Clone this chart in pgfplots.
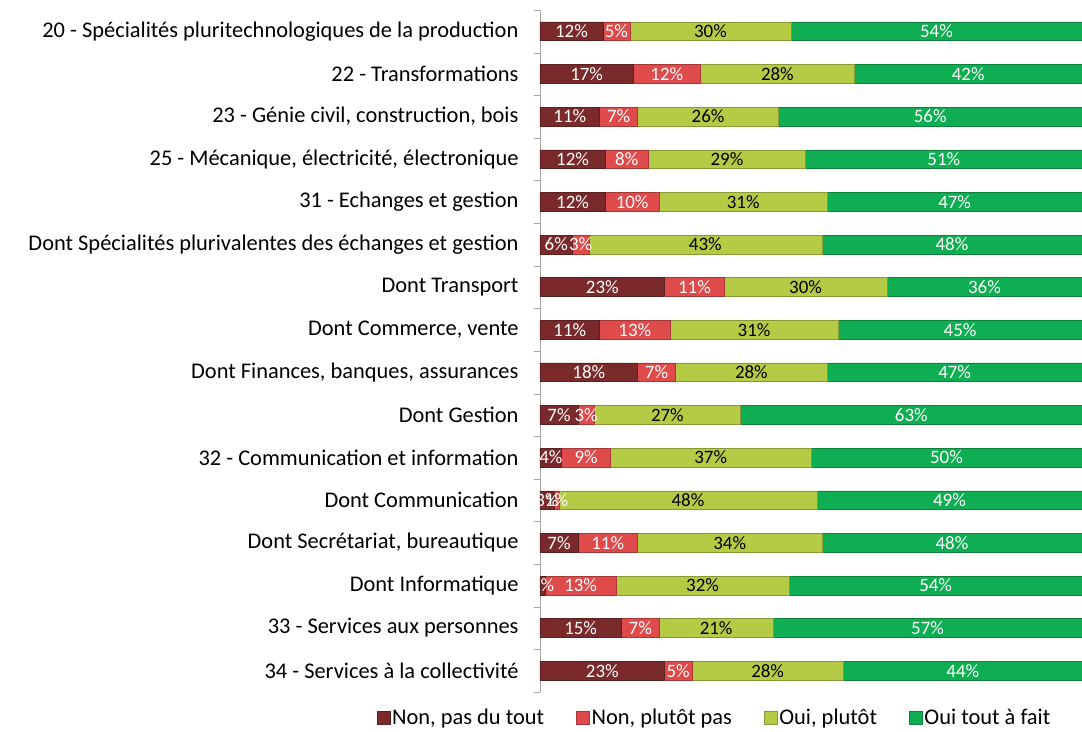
\documentclass[border=0pt]{standalone}
\usepackage{pgfplots}
\pgfplotsset{compat=1.18}
\usepackage{pgfplotstable}
\usepackage{fontspec}
\setmainfont{Carlito}
\definecolor{cA}{HTML}{7A2A2A}
\definecolor{cB}{HTML}{DF4B4B}
\definecolor{cC}{HTML}{B5CB46}
\definecolor{cD}{HTML}{10AE52}
\pgfplotstableread{
idx a b c d
0 11.6 5 29.7 53.7
1 17.2 12.4 28.4 42
2 11 7 26 56
3 12 8 29 51
4 12 10 31 47
5 6 3 43 48
6 23 11 30 36
7 11 13 31 45
8 18 7 28 47
9 7 3 27 63
10 4 9 37 50
11 2.6 0.9 47.6 48.9
12 7 11 34 48
13 1 13 32 54
14 15 7 21 57
15 23 5 28 44
}\datatable
\begin{document}
\begin{tikzpicture}
\pgfplotsset{
  common/.style={
    at={(0,0)}, anchor=south west,
    scale only axis, width=542bp, height=682bp,
    xmin=0, xmax=100, ymin=-0.5, ymax=15.5, y dir=reverse,
  },
}
\begin{axis}[common,
  xbar stacked, bar width=0.44,
  axis lines*=left,
  x axis line style={draw=none},
  y axis line style={draw=gray!70},
  xtick=\empty,
  ytick={0,...,15},
  major tick length=0pt,
  minor ytick={-0.5,0.5,...,15.5},
  minor tick length=6bp,
  tick align=outside,
  minor tick style={gray!70},
  yticklabel style={font=\fontsize{22.5}{24}\selectfont, align=right, xshift=-18bp},
  yticklabels={
    20 - Spécialités pluritechnologiques de la production,
    22 - Transformations,
    {23 - Génie civil, construction, bois},
    {25 - Mécanique, électricité, électronique},
    31 - Echanges et gestion,
    Dont Spécialités plurivalentes des échanges et gestion,
    Dont Transport,
    {Dont Commerce, vente},
    {Dont Finances, banques, assurances},
    Dont Gestion,
    32 - Communication et information,
    Dont Communication,
    {Dont Secrétariat, bureautique},
    Dont Informatique,
    33 - Services aux personnes,
    34 - Services à la collectivité},
  legend style={at={(0.322,-0.038)}, anchor=center, draw=none, fill=none,
    legend columns=4, font=\fontsize{22.5}{24}\selectfont,
    /tikz/every even column/.append style={column sep=30bp}},
  legend image code/.code={\draw[#1] (0bp,-6.5bp) rectangle (13bp,6.5bp);},
]
\addplot[draw=cA!75!black, fill=cA] table[x=a,y=idx]{\datatable};
\addplot[draw=cB!75!black, fill=cB] table[x=b,y=idx]{\datatable};
\addplot[draw=cC!75!black, fill=cC] table[x=c,y=idx]{\datatable};
\addplot[draw=cD!75!black, fill=cD] table[x=d,y=idx]{\datatable};
\legend{{Non, pas du tout},{Non, plutôt pas},{Oui, plutôt},{Oui tout à fait}}
\end{axis}
\begin{axis}[common, hide axis, clip=false,
  nodes near coords={\pgfmathprintnumber[fixed,precision=0,assume math mode=true]{\pgfplotspointmeta}\%},
  every node near coord/.append style={anchor=center, font=\fontsize{19}{20}\selectfont},
]
\addplot[draw=none, mark=none, point meta=\thisrow{a}, every node near coord/.append style={text=white}]
  table[x expr=\thisrow{a}/2, y=idx]{\datatable};
\addplot[draw=none, mark=none, point meta=\thisrow{b}, every node near coord/.append style={text=white}]
  table[x expr=\thisrow{a}+\thisrow{b}/2, y=idx]{\datatable};
\addplot[draw=none, mark=none, point meta=\thisrow{c}, every node near coord/.append style={text=black}]
  table[x expr=\thisrow{a}+\thisrow{b}+\thisrow{c}/2, y=idx]{\datatable};
\addplot[draw=none, mark=none, point meta=\thisrow{d}, every node near coord/.append style={text=white}]
  table[x expr=\thisrow{a}+\thisrow{b}+\thisrow{c}+\thisrow{d}/2, y=idx]{\datatable};
\end{axis}
\pgfresetboundingbox
\path[use as bounding box] (-540bp,-40bp) rectangle (542bp,692bp);
\end{tikzpicture}
\end{document}
